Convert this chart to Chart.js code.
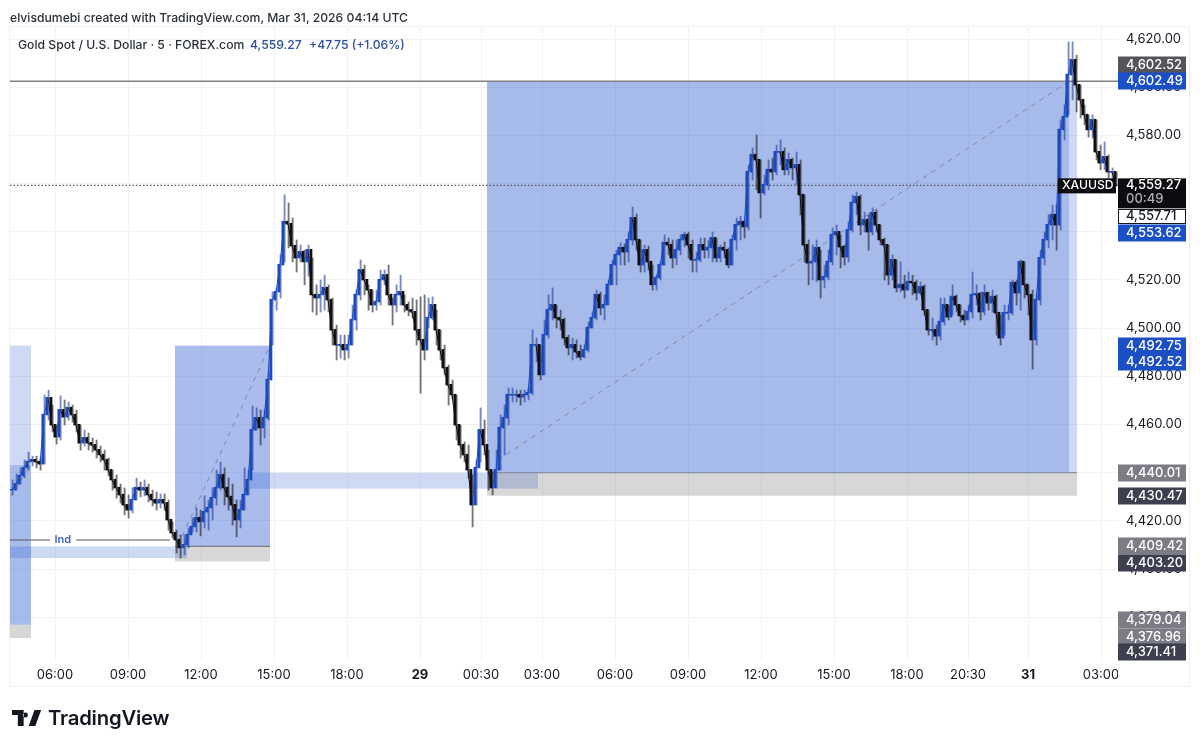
<!DOCTYPE html>
<html>
<head>
<meta charset="utf-8">
<title>Gold Spot / U.S. Dollar</title>
<script src="https://cdn.jsdelivr.net/npm/chart.js@4/dist/chart.umd.js"></script>
<style>
  html, body { margin: 0; padding: 0; background: #fff; }
  body { width: 1200px; height: 747px; position: relative; overflow: hidden; font-family: Inter, "Noto Sans", sans-serif; }
  canvas { position: absolute; left: 0; top: 0; }
  .txt { position: absolute; white-space: nowrap; font-size: 12.2px; line-height: 16px; color: #2a2e39; }
  .blue { color: #2d4f9e; }
  #logo { position: absolute; left: 12px; top: 710px; }
  #brand { position: absolute; left: 48px; top: 704px; font-size: 20.3px; line-height: 28px; font-weight: 600; color: #131722; letter-spacing: -0.2px; }
</style>
</head>
<body>
<canvas id="chart" width="1200" height="747"></canvas>
<div class="txt" style="left:10px;top:10px;font-weight:500;">elvisdumebi created with TradingView.com, Mar 31, 2026 04:14 UTC</div>
<div class="txt" style="left:18px;top:37px;font-weight:500;">Gold Spot / U.S. Dollar · 5 · FOREX.com</div>
<div class="txt blue" style="left:250px;top:37px;font-weight:500;">4,559.27</div>
<div class="txt blue" style="left:309px;top:37px;font-weight:500;">+47.75 (+1.06%)</div>
<svg id="logo" width="30" height="16" viewBox="0 0 36 19"><path fill="#131722" d="M14 0H0v6h7v13h7V0zm14 19h-8L27 0h8l-7 19zM19 6a3 3 0 1 1-6 0 3 3 0 0 1 6 0z"/></svg>
<div id="brand">TradingView</div>
<script>
// bars, one every 10 minutes of the 5 minute chart
const closes = [4432.8,4435.3,4438.7,4442,4444.5,4445.3,4444.5,4443.6,4464,4471,4459.8,4454.8,4466,4463.1,4466.9,4464,4459.8,4452.3,4454.4,4452.3,4451.5,4449.4,4447.4,4445.3,4441.1,4437,4433.7,4430.8,4426.6,4424.5,4428.7,4433.7,4432.8,4433.7,4430.8,4428.7,4427.4,4428.7,4427.4,4420.4,4415,4412.1,4408.8,4410,4414.2,4417.5,4421.2,4419.6,4423.7,4425.4,4429.5,4433.7,4439.1,4433.7,4430,4426.6,4420.4,4424.5,4430.8,4437,4457.7,4462.7,4458.6,4462.7,4478.5,4511.7,4515,4526.2,4544.1,4543.2,4534.1,4529.1,4531.6,4527.5,4532.4,4513.8,4512.5,4513.8,4516.7,4511.7,4499.2,4493,4493,4490.9,4493,4503.4,4513.8,4524.1,4520,4515.8,4509.6,4510.9,4520,4522,4513.8,4509.6,4513.8,4515,4509.6,4507.5,4506.7,4499.2,4495.1,4490.9,4504.2,4509.6,4499.2,4490.9,4483.5,4476.4,4472.3,4459.8,4451.5,4447.4,4441.1,4426.6,4442,4457.7,4451.5,4441.1,4433.7,4441.1,4458.6,4462.7,4472.3,4472.3,4472.3,4471.4,4472.3,4473.1,4493,4493,4480.6,4497.1,4507.5,4509.6,4504.2,4503.4,4495.9,4491.8,4493,4490.1,4488,4490.9,4500.1,4504.2,4513.8,4508.4,4509.6,4518,4526.2,4530.4,4533.3,4531.6,4536.6,4545.7,4536.6,4526.2,4532.4,4527.5,4518,4520.8,4526.2,4535.4,4534.5,4529.1,4532.4,4536.6,4538.7,4534.5,4528.3,4528.3,4534.5,4532.4,4533.3,4537.4,4529.1,4533.3,4532.4,4526.2,4536.6,4542.8,4544.1,4542,4564.8,4571.9,4569.8,4556.1,4559.4,4565.7,4564.8,4573.1,4573.1,4565.7,4569.8,4566.5,4567.7,4555.3,4534.5,4527,4527.5,4533.3,4520,4521.2,4527.5,4538.7,4539.9,4533.7,4529.5,4540.7,4552,4554.4,4542.8,4544.9,4539.9,4547.8,4542.8,4536.6,4534.5,4522,4528.3,4516.7,4518,4515.8,4519.2,4518.8,4514.6,4517.1,4507.5,4499.2,4499.2,4496.7,4502.6,4509.6,4504.6,4513,4509.6,4505.1,4503.4,4506.7,4513.8,4514.2,4506.7,4514.6,4510.4,4513,4506.3,4495.9,4506.3,4506.3,4518.8,4514.6,4527.5,4518,4513.8,4495.1,4511.7,4529.1,4536.6,4542.8,4547,4542.8,4582.3,4587.6,4605.1,4611.3,4600.9,4594.7,4588.5,4582.3,4586.4,4573.1,4568.5,4571,4564.8,4564.8,4559.27];
const highs = [4437,4439.5,4442,4445.3,4448.6,4446.9,4446.9,4446.1,4472.3,4474.3,4468.1,4459.8,4471.9,4470.2,4469.4,4468.1,4466,4459.8,4457.7,4456.5,4454.4,4453.6,4451.1,4449.4,4446.1,4441.1,4439.1,4435.3,4433.7,4430.8,4433.7,4437.8,4436.2,4437,4435.3,4432.8,4432,4431.2,4431.2,4428.7,4419.6,4416.2,4414.2,4414.2,4417.1,4421.2,4425.4,4424.5,4430.4,4428.7,4433.7,4441.1,4444.5,4442,4437.8,4435.3,4428.7,4428.7,4442,4441.1,4467.7,4466.9,4466,4466,4481.8,4515,4516.7,4530.4,4555.3,4552,4545.7,4536.6,4534.5,4532.4,4534.5,4529.1,4518,4520,4522,4518,4512.5,4501.3,4497.1,4497.1,4497.1,4509.6,4515.8,4528.3,4526.2,4518,4515.8,4515.8,4524.1,4524.1,4526.2,4512.5,4518,4522,4513.8,4510.9,4512.5,4511.7,4513,4513.8,4512.5,4513,4507.5,4499.2,4493,4484.7,4478.5,4472.3,4459.8,4452.8,4451.5,4439.1,4445.3,4466.9,4461.9,4449.4,4440.3,4449.4,4464,4468.1,4475.2,4475.2,4474.3,4474.3,4474.3,4475.2,4499.2,4495.9,4493,4503.4,4513.8,4516.7,4509.6,4507.5,4504.2,4497.1,4495.9,4495.1,4493,4493,4502.6,4506.7,4515.8,4515,4513.8,4520,4528.3,4532.4,4535.4,4535,4539.9,4550.3,4547.4,4536.6,4534.5,4534.1,4526.2,4522,4527.5,4538.7,4537.4,4536.6,4536.6,4538.7,4539.9,4539.9,4536.6,4531.6,4537.4,4537.4,4536.6,4539.9,4537.4,4534.5,4535.8,4533.3,4538.7,4545.7,4546.5,4544.1,4567.7,4574.8,4580.2,4569.8,4563.6,4569.8,4570.6,4576,4578.1,4574.8,4572.7,4570.6,4573.1,4569.8,4555.3,4536.6,4534.5,4536.6,4532.4,4526.2,4532.4,4541.6,4542.8,4538.7,4534.5,4544.1,4555.3,4556.5,4555.3,4548.2,4547,4549.9,4549,4542.8,4537.4,4534.5,4530.4,4528.3,4527.5,4522,4523.3,4522,4520,4519.2,4518,4507.5,4504.2,4501.3,4512.5,4512.5,4509.6,4518,4513.8,4509.6,4507.5,4509.6,4523.3,4518,4515,4518,4515,4515.8,4513.8,4505.5,4509.6,4509.6,4520,4520,4528.3,4527.5,4518,4515.8,4513.8,4532.4,4539.9,4547,4551.1,4551.1,4586.4,4592.6,4618.8,4618.8,4613.3,4600.9,4592.6,4588.5,4588.5,4586.4,4576,4577.3,4571.9,4566.5,4564.8];
const lows = [4430.8,4432.8,4435.3,4437.8,4441.1,4442.8,4442,4441.1,4443.6,4461.9,4456.9,4451.9,4453.6,4459.8,4461.9,4461,4456.9,4449.4,4451.1,4449.4,4448.6,4446.1,4444.5,4441.1,4438.7,4432.8,4429.5,4427.4,4422.5,4421.2,4423.3,4428.7,4430,4430.4,4427.9,4426.2,4424.5,4425.4,4424.5,4416.2,4412.9,4406.7,4404.6,4405.9,4408.8,4415.4,4415.4,4413.8,4417.1,4416.2,4420.4,4426.6,4432.8,4426.6,4424.5,4418.3,4413.4,4417.1,4424.5,4430.8,4441.1,4457.7,4451.5,4454.4,4461.9,4493,4507.5,4512.5,4527.5,4533.3,4527.5,4523.3,4527.5,4518,4521.6,4506.7,4505.5,4506.7,4507.5,4506.7,4493,4486.8,4487.6,4486.8,4487.6,4493,4499.2,4511.7,4513.8,4507.5,4506.7,4507.5,4509.6,4518,4509.6,4501.3,4506.7,4509.6,4506.7,4505.1,4504.2,4493,4473,4486.8,4500.1,4503.4,4493,4486.8,4480.6,4468.1,4471,4453.6,4446.1,4444.5,4437.8,4417.5,4426.6,4444.5,4447.4,4432.8,4430.8,4433.7,4441.1,4447.4,4459.8,4469.4,4469.4,4468.1,4469.4,4470.2,4472.3,4486,4478.5,4480.6,4495.9,4503.4,4500.1,4499.2,4493,4488.9,4486.8,4487.6,4486.8,4487.6,4490.1,4500.1,4503.4,4505.5,4503.4,4509.6,4518,4518,4526.2,4526.2,4527.5,4534.5,4532.4,4523.3,4523.3,4524.1,4515.8,4515.8,4520,4526.2,4530.4,4525,4526.2,4530.4,4533.7,4529.1,4523.3,4523.3,4527.5,4529.1,4529.1,4527.5,4527.5,4527.5,4529.1,4525,4526.2,4532.4,4536.6,4537.4,4540.7,4561.5,4557.4,4545.7,4555.3,4557.4,4561.5,4563.6,4567.7,4563.6,4563.6,4561.5,4559.4,4547,4527.5,4518,4520,4519.2,4512.5,4516.7,4520,4526.2,4530.4,4525,4526.2,4527.5,4539.9,4547,4538.7,4539.9,4532.4,4538.7,4539.9,4534.5,4520,4518,4520,4515,4515,4512.5,4515.8,4513.8,4511.7,4513.8,4505.5,4497.1,4495.1,4493,4495.1,4501.3,4503.4,4505.5,4506.7,4502.6,4501.3,4503.4,4504.2,4509.6,4503.4,4505.5,4507.5,4506.7,4497.1,4493,4497.1,4503.4,4505.5,4509.6,4507.5,4512.5,4505.5,4483,4493,4509.6,4526.2,4533.3,4536.6,4532.4,4540.7,4578.1,4588.5,4594.7,4589.7,4587.2,4584.3,4579.3,4578.9,4569.8,4565.7,4565.7,4562.3,4561.5,4559];

// axes
const priceTicks = [4380,4400,4420,4440,4460,4480,4500,4520,4540,4560,4580,4600,4620];
const timeTicks = [11.25,29.5,47.75,66,84.25,102.5,117.75,133,151.25,169.5,187.75,206,224.25,239.5,254.5,272.75];
const timeLabels = ['06:00','09:00','12:00','15:00','18:00','29','00:30','03:00','06:00','09:00','12:00','15:00','18:00','20:30','31','03:00'];
const boldLabels = ['29','31'];

// position tool boxes and order block bands, in bars and prices
const zoneFrom  = [0,0,0,41.25,41.25,0,60,119.25,119.25,264.75,119.25];
const zoneTo    = [5.25,5.25,5.25,65,65,44.25,132,264.75,264.75,266.75,266.75];
const zoneHigh  = [4492.75,4443.2,4376.96,4492.75,4409.42,4409.42,4440.01,4602.49,4602.49,4602.49,4440.01];
const zoneLow   = [4376.96,4376.96,4371.41,4409.42,4403.2,4404.6,4433.4,4440.01,4440.01,4440.01,4430.47];
const zoneKinds = ['blue','blue','grey','double','grey','blue','blue','blue','blue','blue','grey'];

// price tags on the right edge
const tagValues = [4602.52,4602.49,4557.71,4553.62,4492.75,4492.52,4440.01,4430.47,4409.42,4403.2,4379.04,4376.96,4371.41];
const tagNudges = [-16,0,27,34,0,16,0,0,0,2,0,12,14];
const tagFills  = ['#54545a','#1a4fc6','#ffffff','#1a4fc6','#1a4fc6','#1a4fc6','#7c7c86','#3d3f4e','#7c7c86','#3d3f4e','#7c7c86','#7c7c86','#3d3f4e'];
const lastPrice = 4559.27;
const countdown = '00:49';

const zoneColors = { blue: 'rgba(30,80,205,0.215)', double: 'rgba(30,80,205,0.385)', grey: 'rgba(95,95,100,0.25)' };
const axisFont = 'Inter, "Noto Sans", sans-serif';

function money(v) {
    return v.toLocaleString('en-US', { minimumFractionDigits: 2, maximumFractionDigits: 2 });
}

const wickBars = [], bodyBars = [], closeLine = [], wickColors = [], bodyColors = [];
closes.forEach((c, i) => {
    const open = i ? closes[i - 1] : c;
    const up = c >= open;
    wickBars.push({ x: i + 0.5, y: [lows[i], highs[i]] });
    bodyBars.push({ x: i + 0.5, y: [Math.min(open, c), Math.max(open, c) + 0.3] });
    closeLine.push({ x: i + 0.5, y: c });
    wickColors.push(up ? 'rgba(30,60,150,0.6)' : 'rgba(25,25,30,0.6)');
    bodyColors.push(up ? '#1c49bd' : '#101014');
});

function levelLine(points, color, width, dash) {
    return { type: 'line', data: points, borderColor: color, borderWidth: width, borderDash: dash || [], pointRadius: 0, order: 4 };
}

const overlayPlugin = {
    id: 'overlay',
    beforeDatasetsDraw(chart) {
        const { ctx, scales: { x, y } } = chart;
        zoneFrom.forEach((from, i) => {
            ctx.fillStyle = zoneColors[zoneKinds[i]];
            const top = y.getPixelForValue(zoneHigh[i]);
            ctx.fillRect(x.getPixelForValue(from), top, x.getPixelForValue(zoneTo[i]) - x.getPixelForValue(from), y.getPixelForValue(zoneLow[i]) - top);
        });
    },
    afterDraw(chart) {
        const { ctx, scales: { x, y }, chartArea: a } = chart;
        // outer frame
        ctx.strokeStyle = '#f0f1f3';
        ctx.lineWidth = 1;
        ctx.strokeRect(9.5, 26.5, 1180, 660);
        // last x label is cut by the price scale
        ctx.fillStyle = '#fff';
        ctx.fillRect(a.right, a.bottom + 2, 8, 24);

        // Ind label sits in a gap of its line
        ctx.font = '600 11px ' + axisFont;
        ctx.fillStyle = '#fff';
        ctx.fillRect(x.getPixelForValue(10), y.getPixelForValue(4412.1) - 6, 26, 12);
        ctx.fillStyle = '#3f67c4';
        ctx.textAlign = 'center';
        ctx.textBaseline = 'middle';
        ctx.fillText('Ind', x.getPixelForValue(13.2), y.getPixelForValue(4412.1));

        ctx.font = '500 13px ' + axisFont;
        ctx.textAlign = 'left';
        const px = a.right, w = 68, h = 17;
        tagValues.forEach((v, i) => {
            const cy = Math.round(y.getPixelForValue(v)) + tagNudges[i];
            ctx.fillStyle = tagFills[i];
            ctx.fillRect(px, cy - h / 2, w, h);
            if (tagFills[i] === '#ffffff') {
                ctx.strokeStyle = '#131722';
                ctx.strokeRect(px + 0.5, cy - 6.5, w - 1, 14);
                ctx.fillStyle = '#131722';
            } else {
                ctx.fillStyle = '#ffffff';
            }
            ctx.fillText(money(v), px + 8, cy + 0.5);
        });

        // last price block with countdown and symbol tag
        const ly = y.getPixelForValue(lastPrice);
        ctx.fillStyle = '#0c0c10';
        ctx.fillRect(px, ly - 7, w, 30);
        ctx.fillRect(px - 60, ly - 7, 58, 15);
        ctx.fillStyle = '#fff';
        ctx.fillText(money(lastPrice), px + 8, ly);
        ctx.font = '500 12.2px ' + axisFont;
        ctx.fillText('XAUUSD', px - 56, ly);
        ctx.font = '500 13px ' + axisFont;
        ctx.fillStyle = '#aeb0b6';
        ctx.fillText(countdown, px + 8, ly + 14);
    }
};

new Chart(document.getElementById('chart'), {
    data: {
        datasets: [
            { type: 'bar', data: bodyBars, backgroundColor: bodyColors, barThickness: 2.2, order: 1 },
            { type: 'line', data: closeLine, borderWidth: 1, pointRadius: 0, order: 2,
              segment: { borderColor: c => c.p1.parsed.y >= c.p0.parsed.y ? '#1c49bd' : '#101014' } },
            { type: 'bar', data: wickBars, backgroundColor: wickColors, barThickness: 1.2, order: 3 },
            levelLine([{ x: 0, y: 4602.49 }, { x: 277, y: 4602.49 }], '#808086', 1.6),
            levelLine([{ x: 0, y: lastPrice }, { x: 277, y: lastPrice }], '#55555c', 1.2, [1.5, 2]),
            levelLine([{ x: 0, y: 4412.1 }, { x: 40, y: 4412.1 }], '#55565e', 1.2),
            levelLine([{ x: 41.25, y: 4409.42 }, { x: 65, y: 4409.42 }], '#7b7d88', 1.2),
            levelLine([{ x: 119.25, y: 4440.01 }, { x: 266.75, y: 4440.01 }], '#7b8398', 1.2),
            levelLine([{ x: 0, y: 4430 }, { x: 5.25, y: 4443.2 }], '#8b8f9c', 1, [5, 5]),
            levelLine([{ x: 42, y: 4410 }, { x: 65, y: 4492.75 }], '#7f89a6', 1, [5, 5]),
            levelLine([{ x: 122, y: 4445.3 }, { x: 264.75, y: 4602.49 }], '#7f89a6', 1, [5, 5])
        ]
    },
    options: {
        responsive: false,
        animation: false,
        events: [],
        layout: { padding: { left: 10, right: 14, top: 26, bottom: 60 } },
        plugins: { legend: { display: false }, tooltip: { enabled: false } },
        scales: {
            x: {
                type: 'linear',
                min: 0,
                max: 277,
                offset: false,
                grid: { offset: false, color: '#f1f2f4', drawTicks: false },
                border: { display: false },
                afterBuildTicks(axis) { axis.ticks = timeTicks.map(v => ({ value: v })); },
                afterFit(axis) { axis.height = 27; },
                ticks: {
                    autoSkip: false,
                    maxRotation: 0,
                    padding: 7,
                    color: '#131722',
                    font: ctx => ({ family: axisFont, size: 13, weight: boldLabels.includes(timeLabels[ctx.index]) ? '700' : '400' }),
                    callback: (v, i) => timeLabels[i]
                }
            },
            y: {
                position: 'right',
                min: 4362.3,
                max: 4625.4,
                grid: { color: '#f1f2f4', drawTicks: false },
                border: { display: false },
                afterBuildTicks(axis) { axis.ticks = priceTicks.map(v => ({ value: v })); },
                afterFit(axis) { axis.width = 68; },
                ticks: {
                    padding: 8,
                    color: '#131722',
                    font: { family: axisFont, size: 13 },
                    callback: v => money(v)
                }
            }
        }
    },
    plugins: [overlayPlugin]
});
</script>
</body>
</html>
